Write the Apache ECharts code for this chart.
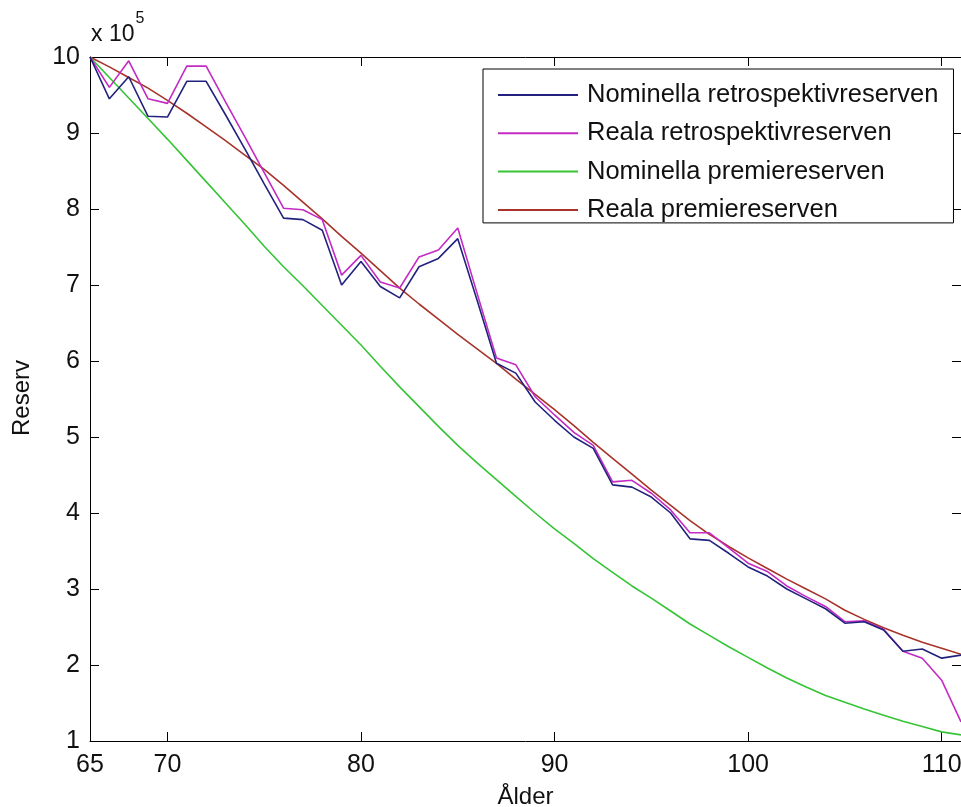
<!DOCTYPE html>
<html>
<head>
<meta charset="utf-8">
<title>Reserv</title>
<script src="https://cdn.jsdelivr.net/npm/echarts@6/dist/echarts.min.js"></script>
<style>
  html, body { margin: 0; padding: 0; background: #fff; }
  #chart { width: 961px; height: 807px; }
</style>
</head>
<body>
<div id="chart"></div>
<script>
// x: ålder, y: reserv i enheter av 10^5
var ages = [66, 67, 68, 69, 70, 71, 72, 73, 74, 75, 76, 77, 78, 79, 80, 81, 82, 83, 84, 85, 86, 87, 88,
    89, 90, 91, 92, 93, 94, 95, 96, 97, 98, 99, 100, 101, 102, 103, 104, 105, 106, 107, 108, 109, 110, 111];

var nomRetro = [10.00, 9.45, 9.74, 9.22, 9.21, 9.68, 9.68, 9.24, 8.79, 8.33, 7.88, 7.86, 7.72, 7.00, 7.31,
    6.98, 6.83, 7.24, 7.35, 7.61, 6.80, 5.97, 5.84, 5.46, 5.22, 5.00, 4.85, 4.37, 4.34, 4.21, 4.00, 3.66,
    3.64, 3.47, 3.29, 3.17, 3.00, 2.87, 2.74, 2.55, 2.57, 2.46, 2.18, 2.21, 2.09, 2.13];

var realRetro = [10.00, 9.60, 9.95, 9.45, 9.39, 9.88, 9.88, 9.41, 8.95, 8.48, 8.01, 7.99, 7.86, 7.13, 7.39,
    7.04, 6.96, 7.37, 7.46, 7.75, 6.89, 6.04, 5.95, 5.53, 5.29, 5.06, 4.89, 4.41, 4.43, 4.26, 4.04, 3.74,
    3.74, 3.54, 3.34, 3.23, 3.04, 2.90, 2.77, 2.57, 2.58, 2.47, 2.18, 2.09, 1.80, 1.25];

var nomPremie = [10.00, 9.73, 9.46, 9.19, 8.92, 8.64, 8.36, 8.08, 7.80, 7.51, 7.24, 6.99, 6.73, 6.47, 6.21,
    5.93, 5.66, 5.40, 5.14, 4.89, 4.66, 4.44, 4.22, 4.00, 3.79, 3.60, 3.40, 3.22, 3.04, 2.88, 2.71, 2.54,
    2.39, 2.24, 2.10, 1.96, 1.83, 1.71, 1.60, 1.51, 1.42, 1.34, 1.26, 1.19, 1.12, 1.08];

var realPremie = [10.00, 9.87, 9.73, 9.59, 9.43, 9.26, 9.08, 8.90, 8.71, 8.52, 8.31, 8.09, 7.87, 7.64, 7.42,
    7.19, 6.96, 6.75, 6.55, 6.35, 6.16, 5.97, 5.76, 5.56, 5.36, 5.15, 4.93, 4.72, 4.51, 4.30, 4.10, 3.90,
    3.72, 3.56, 3.41, 3.27, 3.13, 3.00, 2.87, 2.72, 2.60, 2.49, 2.39, 2.30, 2.22, 2.14];

var seriesNames = ["Nominella retrospektivreserven", "Reala retrospektivreserven",
    "Nominella premiereserven", "Reala premiereserven"];
var seriesColors = ["#22227e", "#c42ac4", "#35c435", "#a8332a"];

// axelns tick-värden och etiketter
var xTickValues = [66, 70, 80, 90, 100, 110];
var xTickLabels = ["65", "70", "80", "90", "100", "110"];

var font = "'Liberation Sans', Arial, sans-serif";

function pairs(values) {
    return ages.map(function (a, i) {
        return [a, values[i]];
    });
}

var myChart = echarts.init(document.getElementById("chart"), null, { renderer: "canvas" });

var axisLine = { show: true, onZero: false, lineStyle: { color: "#000", width: 1 } };
var tickIn = { show: true, inside: true, length: 9, lineStyle: { color: "#000", width: 1 } };

var option = {
    backgroundColor: "#fff",
    animation: false,
    grid: { left: 90, top: 57, width: 871, height: 684, containLabel: false, outerBoundsMode: "none" },
    legend: {
        data: seriesNames,
        orient: "vertical",
        left: 483,
        top: 69,
        padding: [13, 15, 0, 15],
        itemGap: 12.3,
        itemWidth: 80,
        itemHeight: 2,
        icon: "rect",
        backgroundColor: "#fff",
        borderColor: "#000",
        borderWidth: 1,
        textStyle: { fontFamily: font, fontSize: 25.5, color: "#111", padding: [0, 0, 0, 4] }
    },
    xAxis: [{
        type: "value",
        min: 66,
        max: 111,
        position: "bottom",
        axisLine: axisLine,
        axisTick: Object.assign({}, tickIn, { customValues: xTickValues }),
        splitLine: { show: false },
        axisLabel: {
            customValues: xTickValues,
            margin: 12,
            fontFamily: font,
            fontSize: 25,
            color: "#111",
            formatter: function (v) {
                return xTickLabels[xTickValues.indexOf(v)];
            }
        },
        name: "Ålder",
        nameLocation: "middle",
        nameGap: 44,
        nameTextStyle: { fontFamily: font, fontSize: 24, color: "#111" }
    }, {
        type: "value",
        min: 66,
        max: 111,
        position: "top",
        axisLine: axisLine,
        axisTick: Object.assign({}, tickIn, { customValues: xTickValues }),
        axisLabel: { show: false },
        splitLine: { show: false }
    }],
    yAxis: [{
        type: "value",
        min: 1,
        max: 10,
        interval: 1,
        position: "left",
        axisLine: axisLine,
        axisTick: tickIn,
        splitLine: { show: false },
        axisLabel: { margin: 10, fontFamily: font, fontSize: 25, color: "#111" }
    }, {
        type: "value",
        min: 1,
        max: 10,
        interval: 1,
        position: "right",
        axisLine: axisLine,
        axisTick: tickIn,
        axisLabel: { show: false },
        splitLine: { show: false }
    }],
    graphic: [{
        type: "text",
        left: 91,
        top: 11,
        style: {
            text: "{a|x 10}{b|5}",
            rich: {
                a: { fontFamily: font, fontSize: 23, fill: "#111", padding: [12, 0, 0, 0] },
                b: { fontFamily: font, fontSize: 16, fill: "#111", verticalAlign: "top", padding: [0, 0, 10, 1] }
            }
        }
    }, {
        type: "text",
        x: 22,
        y: 398,
        rotation: Math.PI / 2,
        style: {
            text: "Reserv",
            fontFamily: font,
            fontSize: 24,
            fill: "#111",
            align: "center",
            verticalAlign: "middle"
        }
    }],
    series: seriesNames.map(function (name, i) {
        var values = [nomRetro, realRetro, nomPremie, realPremie][i];
        return {
            name: name,
            type: "line",
            data: pairs(values),
            symbol: "none",
            color: seriesColors[i],
            lineStyle: { color: seriesColors[i], width: 1.6 },
            z: 4 - i
        };
    })
};

myChart.setOption(option);
</script>
</body>
</html>
